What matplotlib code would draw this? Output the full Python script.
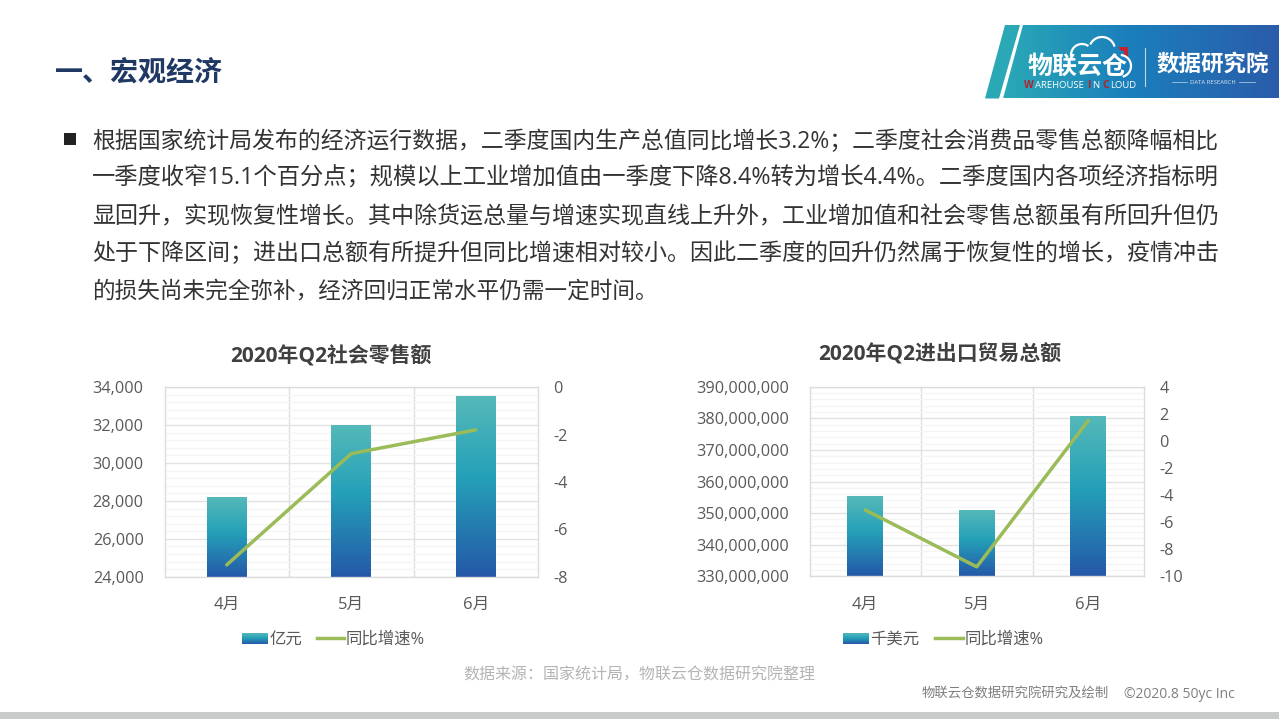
import numpy as np
import matplotlib
matplotlib.use("Agg")
import matplotlib.pyplot as plt
from matplotlib.colors import LinearSegmentedColormap
from matplotlib.patches import Polygon, Rectangle
from matplotlib.ticker import FuncFormatter, MultipleLocator

plt.rcParams['font.family'] = ['Open Sans', 'Noto Sans CJK SC', 'DejaVu Sans']
plt.rcParams['axes.unicode_minus'] = False

months = ['4月', '5月', '6月']
retail_values = [28200, 32000, 33550]
retail_growth = [-7.5, -2.8, -1.8]
trade_values = [355300000, 350800000, 380600000]
trade_growth = [-5.1, -9.3, 1.5]

title_text = '一、宏观经济'
body_lines = [
    '根据国家统计局发布的经济运行数据，二季度国内生产总值同比增长3.2%；二季度社会消费品零售总额降幅相比',
    '一季度收窄15.1个百分点；规模以上工业增加值由一季度下降8.4%转为增长4.4%。二季度国内各项经济指标明',
    '显回升，实现恢复性增长。其中除货运总量与增速实现直线上升外，工业增加值和社会零售总额虽有所回升但仍',
    '处于下降区间；进出口总额有所提升但同比增速相对较小。因此二季度的回升仍然属于恢复性的增长，疫情冲击',
    '的损失尚未完全弥补，经济回归正常水平仍需一定时间。',
]
W, H = 1279, 719
fig = plt.figure(figsize=(W / 100, H / 100), dpi=100, facecolor='white')
TXT = '#595959'
GREEN = '#9BBB59'
bar_cmap = LinearSegmentedColormap.from_list(
    'bar', [(0, '#55B9B9'), (0.45, '#24A0B8'), (1, '#2558A8')])
logo_cmap = LinearSegmentedColormap.from_list(
    'logo', [(0, '#2AA9B6'), (0.45, '#1B7FBC'), (1, '#2A5CAA')])
vgrad = np.linspace(0, 1, 256).reshape(-1, 1)
hgrad = np.linspace(0, 1, 256).reshape(1, -1)


def px_axes(x0, y0, x1, y1, **kw):
    return fig.add_axes([x0 / W, 1 - y1 / H, (x1 - x0) / W, (y1 - y0) / H], **kw)


def chart(box, values, growth, ylim, ymajor, y2lim, y2major, width=0.32):
    ax = px_axes(*box)
    ax.set_xlim(-0.5, 2.5)
    ax.set_ylim(*ylim)
    ax.yaxis.set_major_locator(MultipleLocator(ymajor))
    ax.yaxis.set_minor_locator(MultipleLocator(ymajor / 5))
    ax.yaxis.set_major_formatter(FuncFormatter(lambda v, _: f'{int(round(v)):,}'))
    ax.set_xticks(range(3))
    ax.set_xticklabels(months)
    ax.set_xticks([0.5, 1.5], minor=True)
    ax.grid(axis='y', which='major', color='#E2E2E2', lw=1)
    ax.grid(axis='y', which='minor', color='#F5F5F5', lw=1)
    ax.grid(axis='x', which='minor', color='#DEDEDE', lw=1)
    ax.set_axisbelow(True)
    ax.tick_params(which='both', length=0)
    ax.tick_params(axis='y', labelsize=11.7, labelcolor=TXT, pad=15)
    ax.tick_params(axis='x', labelsize=12, labelcolor=TXT, pad=14.5)
    for s in ax.spines.values():
        s.set_color('#DCDCDC')
        s.set_linewidth(1)
    bars = ax.bar(range(3), values, width=width, color='none', zorder=2)
    for b in bars:
        ax.imshow(vgrad, cmap=bar_cmap, aspect='auto', zorder=2,
                  extent=[b.get_x(), b.get_x() + b.get_width(), ylim[0], b.get_height()])
    ax.set_xlim(-0.5, 2.5)
    ax.set_ylim(*ylim)
    ax2 = ax.twinx()
    ax2.set_ylim(*y2lim)
    ax2.yaxis.set_major_locator(MultipleLocator(y2major))
    ax2.tick_params(length=0, labelsize=11.7, labelcolor=TXT, pad=11)
    for s in ax2.spines.values():
        s.set_visible(False)
    ax2.plot(range(3), growth, color=GREEN, lw=2.5, solid_capstyle='round')
    return ax


chart((164.5, 387.3, 538, 576.7), retail_values, retail_growth,
      (24000, 34000), 2000, (-8, 0), 2)
chart((809.5, 386.7, 1144, 576.3), trade_values, trade_growth,
      (330000000, 390000000), 10000000, (-10, 4), 2)

# page overlay in pixel coordinates
pg = fig.add_axes([0, 0, 1, 1], zorder=10)
pg.patch.set_alpha(0)
pg.axis('off')


def grad_poly(pts, cmap, grad, extent):
    poly = Polygon(pts, closed=True, fc='none', ec='none')
    pg.add_patch(poly)
    im = pg.imshow(grad, cmap=cmap, aspect='auto', extent=extent, zorder=1)
    im.set_clip_path(poly)


grad_poly([(1003, 98.5), (1023, 25), (1279, 25), (1279, 98.5)], logo_cmap, hgrad,
          (1003, 1279, 98.5, 25))
pg.add_patch(Polygon([(985, 98.5), (1005, 25), (1020, 25), (999, 98.5)], fc='#2BA8B5', ec='none'))
pg.add_patch(Rectangle((0, 712), W, 7, fc='#C9CBCA', ec='none'))
pg.add_patch(Rectangle((64, 133), 12, 12, fc='#222222', ec='none'))

pg.text(55, 73, title_text, fontsize=20.2, fontweight='bold', color='#1F3864', va='center', ha='left')
# the reference's paragraph is justified to one right edge: each line gets its own size
for y, size, line in zip([148, 185, 223, 260, 297],
                         [16.44, 16.78, 16.58, 16.58, 16.25], body_lines):
    pg.text(92, y, line, fontsize=size, color='#333333', va='baseline', ha='left')

pg.text(331, 356, '2020年Q2社会零售额', fontsize=15, fontweight='bold', color='#404040', va='center', ha='center')
pg.text(940, 355, '2020年Q2进出口贸易总额', fontsize=15, fontweight='bold', color='#404040', va='center', ha='center')

for x0, x1, lab, lx0, lx1, lab2 in [(242, 268, '亿元', 317, 344, '同比增速%'),
                                    (843, 869, '千美元', 935, 963, '同比增速%')]:
    pg.imshow(vgrad, cmap=bar_cmap, aspect='auto', extent=(x0, x1, 644, 633), zorder=2)
    pg.text(x1 + 1, 640, lab, fontsize=11.8, color=TXT, va='center', ha='left')
    pg.plot([lx0, lx1], [638, 638], color=GREEN, lw=2.5)
    pg.text(lx1 + 2, 640, lab2, fontsize=11.8, color=TXT, va='center', ha='left')

pg.text(463, 676, '数据来源：国家统计局，物联云仓数据研究院整理', fontsize=11.5, color='#B4B4B4', va='center', ha='left')
pg.text(922, 694, '物联云仓数据研究院研究及绘制', fontsize=9.6, color='#7F7F7F', va='center', ha='left')
pg.text(1124, 694, '©2020.8 50yc Inc', fontsize=10, color='#7F7F7F', va='center', ha='left')

# logo wording
pg.text(1078, 67, '物联云仓', fontsize=18, fontweight='bold', color='white', va='center', ha='center')
pg.text(1024.5, 85, 'W', fontsize=7.2, fontweight='bold', color='#B5232A', va='center', ha='left')
pg.text(1035, 85, 'AREHOUSE', fontsize=6.8, color='white', va='center', ha='left')
pg.text(1087, 85, 'I', fontsize=7.2, fontweight='bold', color='#B5232A', va='center', ha='left')
pg.text(1092, 85, 'N', fontsize=6.8, color='white', va='center', ha='left')
pg.text(1102, 85, 'C', fontsize=7.2, fontweight='bold', color='#B5232A', va='center', ha='left')
pg.text(1110, 85, 'LOUD', fontsize=6.8, color='white', va='center', ha='left')
pg.text(1212.5, 65, '数据研究院', fontsize=16.2, fontweight='bold', color='white', va='center', ha='center')
pg.text(1213, 82, 'DATA RESEARCH', fontsize=4.2, color='#DCE8F2', va='center', ha='center')
pg.plot([1144.5, 1144.5], [48, 86], color='#BFD8E8', lw=0.8)
pg.plot([1172, 1187], [82, 82], color='#BFD8E8', lw=0.5)
pg.plot([1239, 1255], [82, 82], color='#BFD8E8', lw=0.5)
# cloud outline and red arrow mark
for cx, cy, r, a0, a1 in [(1082, 55, 11, 180, 60), (1102, 50, 13, 150, 20), (1120, 66, 11, 80, -70)]:
    t = np.radians(np.linspace(a0, a1, 60))
    pg.plot(cx + r * np.cos(t), cy - r * np.sin(t), color='white', lw=1.6)
pg.add_patch(Polygon([(1118, 47), (1128, 47), (1128, 60), (1124, 56), (1124, 51), (1121, 51)],
                     fc='#C0262D', ec='none'))

pg.set_xlim(0, W)
pg.set_ylim(H, 0)
fig.savefig('out.png', dpi=100, facecolor='white')
